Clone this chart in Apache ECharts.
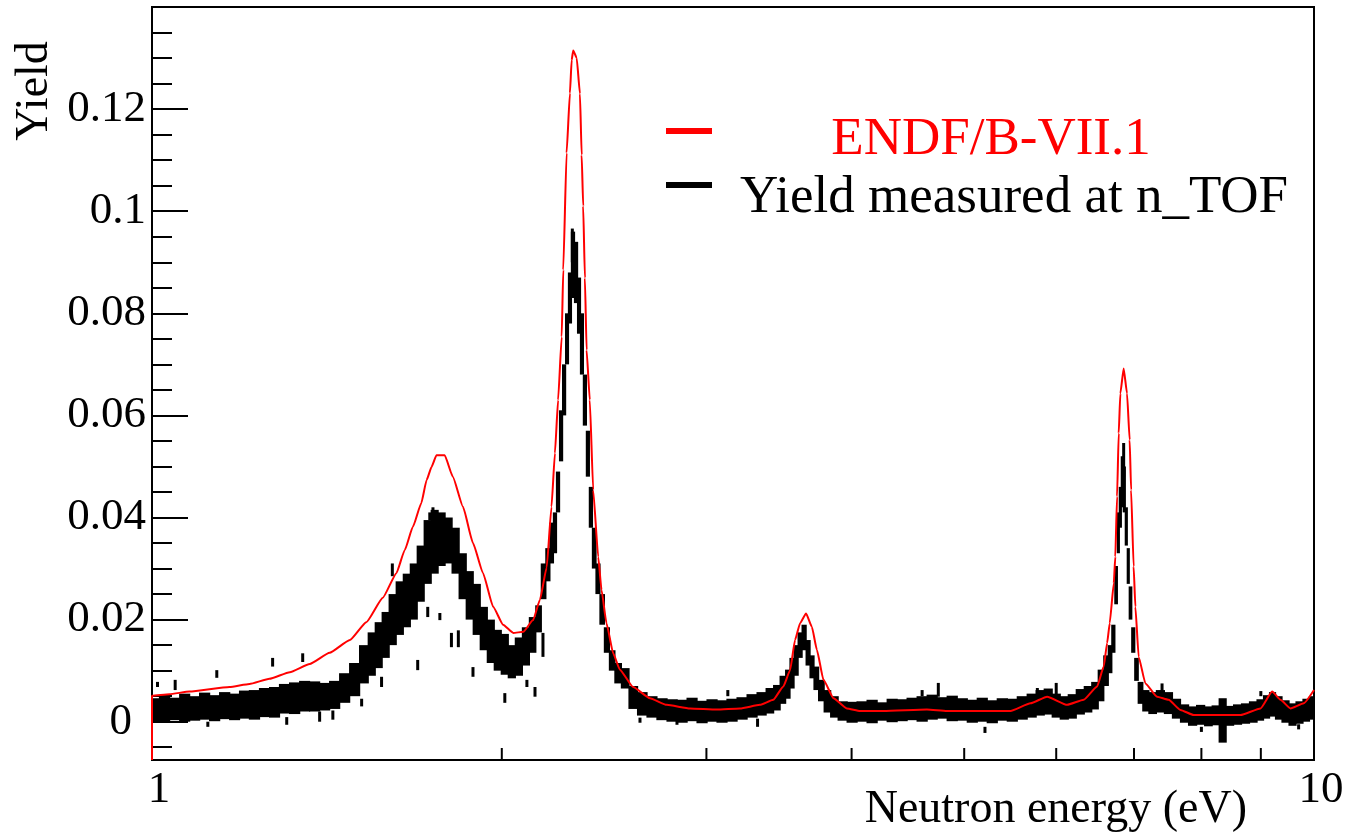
<!DOCTYPE html>
<html><head><meta charset="utf-8">
<script src="https://cdn.jsdelivr.net/npm/echarts@6/dist/echarts.min.js"></script>
<style>html,body{margin:0;padding:0;background:#fff}#c{width:1345px;height:836px}</style>
</head><body><div id="c"></div>
<script>
// ---- ENDF/B-VII.1 evaluated yield (red) ----
const endfE = [1.000,1.000,1.035,1.077,1.166,1.213,1.262,1.314,1.367,1.422,
  1.480,1.529,1.580,1.623,1.650,1.677,1.705,1.723,1.740,1.757,1.786,1.815,1.852,
  1.889,1.927,1.966,2.005,2.046,2.087,2.128,2.157,2.186,2.207,
  2.222,2.236,2.252,2.259,2.274,2.289,2.297,2.304,2.320,2.335,
  2.343,2.350,2.358,2.366,2.381,2.397,2.421,2.437,2.461,2.494,
  2.527,2.594,2.682,2.773,2.904,3.062,3.206,3.336,3.425,3.494,
  3.541,3.576,3.612,3.655,3.697,3.734,3.783,3.859,3.962,4.068,
  4.262,4.644,4.832,5.480,5.702,5.893,6.131,6.336,6.507,6.592,
  6.637,6.671,6.725,6.745,6.769,6.791,6.813,6.858,6.904,6.940,
  6.960,6.995,7.019,7.065,7.160,7.327,7.498,7.674,7.879,8.645,
  8.995,9.204,9.357,9.545,9.800,10.000];
const endfY = [-0.0075,0.0051,0.0054,0.0059,0.0068,0.0074,0.0084,0.0097,0.0113,0.0135,
  0.0160,0.0195,0.0243,0.0291,0.0336,0.0382,0.0428,0.0473,0.0499,0.0522,0.0522,0.0480,0.0421,
  0.0350,0.0291,0.0225,0.0190,0.0174,0.0176,0.0199,0.0239,0.0302,0.0421,
  0.0526,0.0630,0.0754,0.0885,0.1114,0.1231,0.1296,0.1315,0.1300,0.1230,
  0.1110,0.1010,0.0869,0.0728,0.0630,0.0454,0.0323,0.0258,0.0193,0.0134,
  0.0102,0.0068,0.0046,0.0033,0.0026,0.0024,0.0026,0.0033,0.0043,0.0069,
  0.0101,0.0160,0.0193,0.0212,0.0186,0.0141,0.0082,0.0046,0.0026,0.0021,
  0.0021,0.0024,0.0021,0.0021,0.0036,0.0049,0.0033,0.0043,0.0069,0.0108,
  0.0154,0.0193,0.0271,0.0323,0.0441,0.0565,0.0643,0.0692,0.0643,0.0552,
  0.0454,0.0304,0.0225,0.0127,0.0075,0.0049,0.0043,0.0023,0.0013,0.0013,
  0.0026,0.0059,0.0043,0.0026,0.0036,0.0062];

// ---- Yield measured at n_TOF (black): bin energy, lower and upper edge of error bar ----
const measE = [1.005,1.025,1.046,1.067,1.088,1.110,1.132,1.155,1.178,1.201,
  1.225,1.250,1.275,1.300,1.327,1.353,1.380,1.408,1.436,1.465,
  1.494,1.524,1.546,1.567,1.589,1.611,1.634,1.657,1.680,1.703,
  1.727,1.751,1.775,1.800,1.825,1.851,1.877,1.903,1.930,1.957,
  1.984,2.012,2.040,2.069,2.098,2.127,2.152,2.174,2.191,2.209,
  2.222,2.236,2.249,2.263,2.276,2.289,2.303,2.317,2.331,2.344,
  2.358,2.372,2.386,2.401,2.420,2.439,2.463,2.488,2.517,2.553,
  2.594,2.641,2.693,2.747,2.803,2.859,2.916,2.974,3.034,3.094,
  3.156,3.220,3.284,3.350,3.404,3.451,3.493,3.527,3.554,3.584,
  3.612,3.641,3.670,3.698,3.728,3.766,3.811,3.864,3.926,4.004,
  4.084,4.166,4.250,4.335,4.421,4.510,4.600,4.693,4.786,4.883,
  4.981,5.081,5.182,5.286,5.392,5.500,5.610,5.720,5.813,5.906,
  6.000,6.097,6.194,6.293,6.394,6.482,6.561,6.626,6.679,6.719,
  6.760,6.786,6.813,6.840,6.867,6.894,6.921,6.948,6.990,7.031,
  7.087,7.160,7.260,7.376,7.494,7.615,7.737,7.862,7.988,8.116,
  8.230,8.345,8.460,8.595,8.730,8.871,8.995,9.102,9.212,9.320,
  9.452,9.584,9.717,9.852,9.970];
const measLo = [0.0001,0.0000,0.0003,0.0000,0.0002,0.0004,0.0001,0.0005,0.0003,0.0006,
  0.0004,0.0009,0.0008,0.0016,0.0015,0.0020,0.0020,0.0022,0.0025,0.0037,
  0.0050,0.0075,0.0090,0.0105,0.0125,0.0150,0.0170,0.0185,0.0200,0.0235,
  0.0270,0.0290,0.0305,0.0310,0.0290,0.0240,0.0200,0.0170,0.0140,0.0115,
  0.0100,0.0092,0.0085,0.0090,0.0110,0.0135,0.0175,0.0240,0.0275,0.0310,
  0.0330,0.0410,0.0510,0.0600,0.0700,0.0780,0.0830,0.0820,0.0760,0.0680,
  0.0580,0.0480,0.0380,0.0300,0.0250,0.0190,0.0135,0.0100,0.0075,0.0065,
  0.0025,0.0012,0.0008,0.0003,0.0000,-0.0002,0.0001,-0.0003,0.0000,-0.0002,
  0.0000,0.0004,0.0008,0.0012,0.0016,0.0022,0.0035,0.0045,0.0065,0.0090,
  0.0125,0.0140,0.0110,0.0085,0.0062,0.0040,0.0018,0.0008,0.0002,-0.0002,
  0.0000,-0.0003,0.0002,-0.0001,0.0001,0.0003,0.0000,0.0004,0.0006,0.0001,
  0.0002,-0.0002,0.0000,-0.0003,0.0002,0.0000,0.0004,0.0008,0.0012,0.0014,
  0.0008,0.0004,0.0006,0.0014,0.0018,0.0024,0.0040,0.0070,0.0095,0.0135,
  0.0230,0.0330,0.0380,0.0420,0.0410,0.0345,0.0270,0.0200,0.0135,0.0080,
  0.0035,0.0020,0.0015,0.0018,0.0015,0.0006,-0.0002,-0.0008,-0.0006,-0.0009,
  -0.0007,-0.0041,-0.0008,-0.0006,-0.0004,-0.0002,0.0002,0.0006,0.0010,0.0004,
  -0.0002,-0.0008,-0.0004,0.0000,0.0004];
const measHi = [0.0046,0.0052,0.0047,0.0055,0.0050,0.0057,0.0052,0.0058,0.0055,0.0061,
  0.0062,0.0066,0.0068,0.0074,0.0077,0.0080,0.0079,0.0076,0.0080,0.0095,
  0.0115,0.0150,0.0175,0.0195,0.0215,0.0250,0.0275,0.0290,0.0310,0.0345,
  0.0395,0.0415,0.0410,0.0400,0.0380,0.0330,0.0295,0.0270,0.0225,0.0200,
  0.0180,0.0172,0.0150,0.0165,0.0185,0.0205,0.0228,0.0310,0.0340,0.0390,
  0.0410,0.0490,0.0610,0.0700,0.0800,0.0880,0.0960,0.0940,0.0870,0.0800,
  0.0680,0.0570,0.0460,0.0380,0.0310,0.0250,0.0185,0.0140,0.0115,0.0105,
  0.0070,0.0058,0.0050,0.0046,0.0044,0.0043,0.0047,0.0041,0.0044,0.0042,
  0.0045,0.0048,0.0054,0.0058,0.0066,0.0072,0.0090,0.0102,0.0125,0.0150,
  0.0175,0.0190,0.0160,0.0130,0.0108,0.0082,0.0062,0.0050,0.0040,0.0039,
  0.0040,0.0043,0.0038,0.0045,0.0044,0.0047,0.0050,0.0053,0.0048,0.0051,
  0.0046,0.0043,0.0047,0.0042,0.0046,0.0045,0.0050,0.0055,0.0062,0.0065,
  0.0055,0.0050,0.0054,0.0064,0.0070,0.0078,0.0102,0.0130,0.0150,0.0190,
  0.0305,0.0410,0.0460,0.0520,0.0500,0.0420,0.0340,0.0265,0.0185,0.0125,
  0.0078,0.0062,0.0058,0.0062,0.0058,0.0045,0.0034,0.0030,0.0033,0.0030,
  0.0032,0.0046,0.0031,0.0034,0.0036,0.0040,0.0044,0.0052,0.0058,0.0050,
  0.0042,0.0036,0.0040,0.0045,0.0050];

// isolated error bars sticking out of the measured band
const outE  = [1.011,1.047,1.117,1.137,1.270,1.306,1.348,1.394,1.431,1.515,
  1.576,1.610,1.693,1.727,1.734,1.745,1.769,1.810,1.835,1.889,
  2.012,2.102,2.136,2.170,2.300,2.630,2.830,3.130,3.320,4.600,
  4.750,5.210,5.780,6.000,6.858,7.400,8.000,9.000,9.700];
const outLo = [0.0068,0.0062,-0.0010,0.0086,0.0108,-0.0006,0.0117,0.0000,0.0004,0.0030,
  0.0068,0.0285,0.0101,0.0205,0.0395,0.0400,0.0199,0.0146,0.0146,0.0088,
  0.0037,0.0068,0.0049,0.0127,0.0900,-0.0002,-0.0006,0.0050,-0.0010,0.0050,
  0.0049,-0.0022,0.0049,0.0049,0.0480,0.0060,-0.0020,0.0050,-0.0015];
const outHi = [0.0078,0.0082,0.0000,0.0101,0.0125,0.0009,0.0134,0.0020,0.0022,0.0045,
  0.0088,0.0310,0.0121,0.0225,0.0410,0.0420,0.0213,0.0174,0.0179,0.0107,
  0.0056,0.0082,0.0068,0.0174,0.0966,0.0008,0.0004,0.0062,0.0006,0.0062,
  0.0076,-0.0010,0.0066,0.0076,0.0546,0.0075,-0.0010,0.0060,-0.0005];

// ---- axes ----
const yMajorTicks = [0,0.02,0.04,0.06,0.08,0.1,0.12];
const yMinorTicks = [-0.005,0.005,0.01,0.015,0.025,0.03,0.035,0.045,0.05,0.055,0.065,0.07,0.075,
  0.085,0.09,0.095,0.105,0.11,0.115,0.125,0.13,0.135];
const xTickValues = [2,3,4,5,6,7,8,9];
const yMin = -0.0075, yMax = 0.14;

const FONT = '"Liberation Serif","Times New Roman",serif';

function bandRenderer(eArr){
  return function(params, api){
    const i = params.dataIndex;
    const lo = api.coord([api.value(0), api.value(1)]);
    const hi = api.coord([api.value(0), api.value(2)]);
    const cx = lo[0];
    const prev = i > 0 ? api.coord([eArr[i-1], 0])[0] : cx - 6;
    const next = i < eArr.length - 1 ? api.coord([eArr[i+1], 0])[0] : cx + 6;
    const xl = (prev + cx) / 2, xr = (next + cx) / 2;
    return {type:'rect', shape:{x:xl - 0.6, y:hi[1], width:xr - xl + 1.2, height:Math.max(2, lo[1] - hi[1])},
      style:{fill:'#000'}};
  };
}
function barRenderer(params, api){
  const lo = api.coord([api.value(0), api.value(1)]);
  const hi = api.coord([api.value(0), api.value(2)]);
  return {type:'rect', shape:{x:lo[0] - 1.5, y:hi[1], width:3, height:Math.max(2, lo[1] - hi[1])}, style:{fill:'#000'}};
}
// x-axis ticks at 2..9 drawn through the log scale, pointing up from the frame bottom
function tickRenderer(params, api){
  const p = api.coord([api.value(0), api.value(1)]);
  return {type:'line', shape:{x1:p[0], y1:p[1], x2:p[0], y2:p[1] - 12}, style:{stroke:'#000', lineWidth:2}};
}

const chart = echarts.init(document.getElementById('c'), null, {renderer:'canvas'});
chart.setOption({
  animation:false,
  backgroundColor:'#fff',
  grid:{left:152, top:7, width:1162, height:753, show:true, borderColor:'#000', borderWidth:2,
        backgroundColor:'#fff', containLabel:false, outerBoundsMode:'none'},
  xAxis:{type:'log', logBase:10, min:1, max:10,
    axisLine:{show:false}, splitLine:{show:false}, minorTick:{show:false}, minorSplitLine:{show:false},
    axisTick:{show:false},
    axisLabel:{show:true, fontFamily:FONT, fontSize:45, color:'#000', margin:8,
      padding:[0,0,0,14], formatter:v => String(Math.round(v))}},
  yAxis:[
    {type:'value', min:yMin, max:yMax, position:'left',
     axisLine:{show:false}, splitLine:{show:false},
     axisTick:{show:true, inside:true, length:36, lineStyle:{color:'#000', width:2}, customValues:yMajorTicks},
     axisLabel:{show:true, customValues:yMajorTicks, fontFamily:FONT, fontSize:45, color:'#000', margin:6,
       formatter:v => v === 0 ? '{z|0}' : String(+v.toFixed(2)),
       rich:{z:{fontFamily:FONT, fontSize:45, color:'#000', padding:[0,14,0,0]}}}},
    {type:'value', min:yMin, max:yMax, position:'left',
     axisLine:{show:false}, splitLine:{show:false}, axisLabel:{show:false},
     axisTick:{show:true, inside:true, length:20, lineStyle:{color:'#000', width:2}, customValues:yMinorTicks}}
  ],
  series:[
    {type:'custom', name:'Yield measured at n_TOF', renderItem:bandRenderer(measE), clip:true, z:3,
     encode:{x:0, y:[1,2]}, data:measE.map((e,i)=>[e, measLo[i], measHi[i]])},
    {type:'custom', name:'outliers', renderItem:barRenderer, clip:true, z:3,
     encode:{x:0, y:[1,2]}, data:outE.map((e,i)=>[e, outLo[i], outHi[i]])},
    {type:'line', name:'ENDF/B-VII.1', showSymbol:false, symbol:'none', clip:true, z:5,
     smooth:0.15, smoothMonotone:'x',
     lineStyle:{color:'#ff0000', width:2}, data:endfE.map((e,i)=>[e, endfY[i]])},
    {type:'custom', name:'xticks', renderItem:tickRenderer, clip:false, z:6, silent:true,
     encode:{x:0, y:1}, data:xTickValues.map(v=>[v, yMin])}
  ],
  graphic:[
    {type:'line', shape:{x1:666, y1:131, x2:712, y2:131}, style:{stroke:'#ff0000', lineWidth:6}},
    {type:'line', shape:{x1:666, y1:185, x2:712, y2:185}, style:{stroke:'#000', lineWidth:6}},
    {type:'text', x:991, y:140, style:{text:'ENDF/B-VII.1', font:'53px "Liberation Serif"', fill:'#ff0000',
      textAlign:'center', textVerticalAlign:'middle', align:'center', verticalAlign:'middle'}},
    {type:'text', x:740, y:198, style:{text:'Yield measured at n_TOF', font:'53px "Liberation Serif"', fill:'#000',
      textAlign:'left', textVerticalAlign:'middle', align:'left', verticalAlign:'middle'}},
    {type:'text', x:35, y:91, rotation:Math.PI/2, style:{text:'Yield', font:'46px "Liberation Serif"', fill:'#000',
      textAlign:'center', textVerticalAlign:'middle', align:'center', verticalAlign:'middle'}},
    {type:'text', x:1247, y:810, style:{text:'Neutron energy (eV)', font:'46px "Liberation Serif"', fill:'#000',
      textAlign:'right', textVerticalAlign:'middle', align:'right', verticalAlign:'middle'}}
  ]
});
</script>
</body></html>
